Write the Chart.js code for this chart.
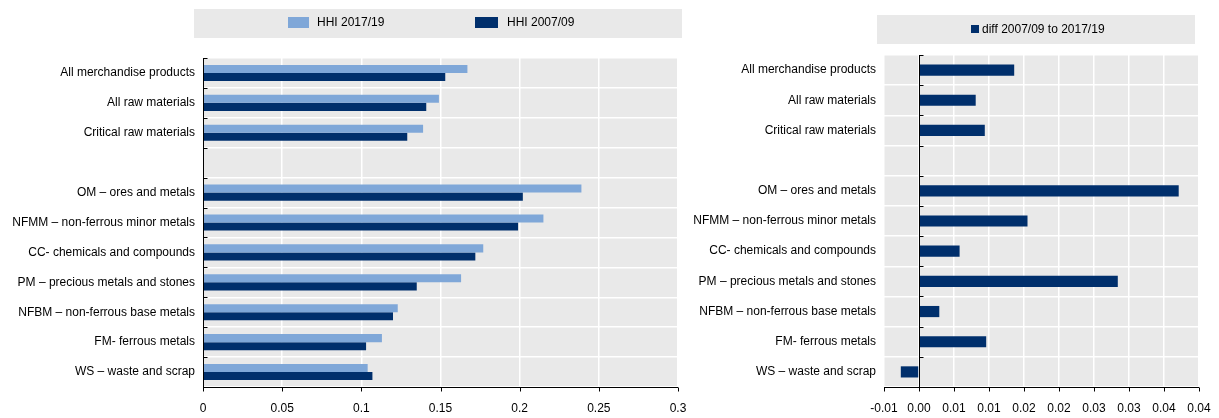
<!DOCTYPE html>
<html><head><meta charset="utf-8">
<script src="https://cdn.jsdelivr.net/npm/chart.js@4.4.1/dist/chart.umd.min.js"></script>
<style>
html,body{margin:0;padding:0;background:#fff;}
#wrap{position:relative;width:1219px;height:418px;overflow:hidden;}
#c1{position:absolute;left:0;top:0;}
#c2{position:absolute;left:690px;top:0;}
</style></head><body>
<div id="wrap"><canvas id="c1" width="690" height="418"></canvas><canvas id="c2" width="529" height="418"></canvas></div>
<script>
// ---- data ----
const categories = [
  'All merchandise products',
  'All raw materials',
  'Critical raw materials',
  '',
  'OM \u2013 ores and metals',
  'NFMM \u2013 non-ferrous minor metals',
  'CC- chemicals and compounds',
  'PM \u2013 precious metals and stones',
  'NFBM \u2013 non-ferrous base metals',
  'FM- ferrous metals',
  'WS \u2013 waste and scrap'
];
const hhi2017 = [0.167, 0.149, 0.139, null, 0.239, 0.215, 0.177, 0.163, 0.123, 0.113, 0.104];
const hhi2007 = [0.153, 0.141, 0.129, null, 0.202, 0.199, 0.172, 0.135, 0.120, 0.103, 0.107];
const diff = [0.0136, 0.0081, 0.0094, null, 0.0371, 0.0155, 0.0058, 0.0284, 0.0029, 0.0096, -0.0026];
const seriesLabels = ['HHI 2017/19', 'HHI 2007/09'];
const diffLabel = 'diff 2007/09 to 2017/19';
const leftTickLabels = ['0', '0.05', '0.1', '0.15', '0.2', '0.25', '0.3'];
const rightTickLabels = ['-0.01', '0.00', '0.01', '0.01', '0.02', '0.02', '0.03', '0.03', '0.04', '0.04'];

// ---- styles ----
const LIGHT = '#7fa7d8';
const DARK = '#002f6c';
const PLOTBG = '#e9e9e9';
const FONT = "'Liberation Sans', Arial, sans-serif";

Chart.defaults.font.family = FONT;
Chart.defaults.font.size = 12;
Chart.defaults.color = '#000';

const plotBg = {
  id: 'plotBg',
  beforeDraw(chart) {
    const a = chart.chartArea, ctx = chart.ctx;
    ctx.save();
    ctx.fillStyle = PLOTBG;
    ctx.fillRect(a.left, a.top, a.right - a.left, a.bottom - a.top);
    ctx.restore();
  }
};

function axisDeco(zeroAtValue) {
  return {
    id: 'axisDeco',
    afterDatasetsDraw(chart) {
      const a = chart.chartArea, ctx = chart.ctx;
      const xs = chart.scales.x, ys = chart.scales.y;
      const ax = Math.round(xs.getPixelForValue(zeroAtValue)) + 0.5;
      ctx.save();
      ctx.strokeStyle = '#000';
      ctx.lineWidth = 1;
      ctx.beginPath();
      ctx.moveTo(ax, a.top);
      ctx.lineTo(ax, a.bottom);
      const by = Math.round(a.bottom) + 0.5;
      ctx.moveTo(a.left, by);
      ctx.lineTo(a.right, by);
      xs.ticks.forEach(t => {
        const px = Math.round(xs.getPixelForValue(t.value)) + 0.5;
        ctx.moveTo(px, by);
        ctx.lineTo(px, by + 4);
      });
      const n = ys.getLabels().length;
      const step = ys.getPixelForValue(1) - ys.getPixelForValue(0);
      for (let i = 0; i <= n; i++) {
        const py = Math.round(ys.getPixelForValue(i) - step / 2) + 0.5;
        ctx.moveTo(ax, py);
        ctx.lineTo(ax + 4, py);
      }
      ctx.stroke();
      ctx.restore();
    }
  };
}

function legendBox(box, items) {
  return {
    id: 'legendBox',
    afterDraw(chart) {
      const ctx = chart.ctx;
      ctx.save();
      ctx.fillStyle = PLOTBG;
      ctx.fillRect(box.x, box.y, box.w, box.h);
      items.forEach((it, i) => {
        const ds = chart.data.datasets[i];
        ctx.fillStyle = ds.backgroundColor;
        ctx.fillRect(it.sx, it.sy, it.sw, it.sh);
        ctx.fillStyle = '#000';
        ctx.font = '12px ' + FONT;
        ctx.textBaseline = 'middle';
        ctx.textAlign = 'left';
        ctx.fillText(ds.label, it.tx, it.ty);
      });
      ctx.restore();
    }
  };
}

function yAxis(width) {
  return {
    type: 'category',
    grid: { color: '#ffffff', lineWidth: 1.5, drawTicks: false, offset: true },
    border: { display: false },
    ticks: { padding: 8, color: '#000', font: { size: 12 }, autoSkip: false },
    afterFit(s) { s.width = width; s.paddingTop = 0; s.paddingBottom = 0; }
  };
}

function xAxis(min, max, step, labels) {
  return {
    type: 'linear', min: min, max: max,
    ticks: {
      stepSize: step, padding: 14, color: '#000', font: { size: 12 },
      callback: (v, i) => labels[i]
    },
    grid: { color: '#ffffff', lineWidth: 1.5, drawTicks: false },
    border: { display: false },
    afterFit(s) { s.height = 31; s.paddingLeft = 0; s.paddingRight = 0; }
  };
}

// ---- left chart ----
new Chart(document.getElementById('c1'), {
  type: 'bar',
  data: {
    labels: categories,
    datasets: [
      { label: seriesLabels[0], data: hhi2017, backgroundColor: LIGHT, borderWidth: 0 },
      { label: seriesLabels[1], data: hhi2007, backgroundColor: DARK, borderWidth: 0 }
    ]
  },
  options: {
    indexAxis: 'y',
    responsive: false,
    animation: false,
    layout: { padding: { top: 58, left: 0, right: 12, bottom: 0 } },
    datasets: { bar: { categoryPercentage: 0.54, barPercentage: 1.0 } },
    plugins: { legend: { display: false }, tooltip: { enabled: false } },
    scales: {
      x: xAxis(0, 0.3, 0.05, leftTickLabels),
      y: yAxis(203)
    }
  },
  plugins: [plotBg, axisDeco(0), legendBox(
    { x: 194, y: 9, w: 488, h: 29 },
    [
      { sx: 288, sy: 17, sw: 21, sh: 11, tx: 317, ty: 23 },
      { sx: 475, sy: 17, sw: 23, sh: 11, tx: 507, ty: 23 }
    ]
  )]
});

// ---- right chart ----
new Chart(document.getElementById('c2'), {
  type: 'bar',
  data: {
    labels: categories,
    datasets: [
      { label: diffLabel, data: diff, backgroundColor: DARK, borderWidth: 0 }
    ]
  },
  options: {
    indexAxis: 'y',
    responsive: false,
    animation: false,
    layout: { padding: { top: 55, left: 0, right: 20, bottom: 0 } },
    datasets: { bar: { categoryPercentage: 1.0, barPercentage: 0.37 } },
    plugins: { legend: { display: false }, tooltip: { enabled: false } },
    scales: {
      x: xAxis(-0.005, 0.04, 0.005, rightTickLabels),
      y: yAxis(194)
    }
  },
  plugins: [plotBg, axisDeco(0), legendBox(
    { x: 187, y: 15, w: 318, h: 29 },
    [
      { sx: 281, sy: 25, sw: 8, sh: 8, tx: 292, ty: 29.5 }
    ]
  )]
});
</script>
</body></html>
